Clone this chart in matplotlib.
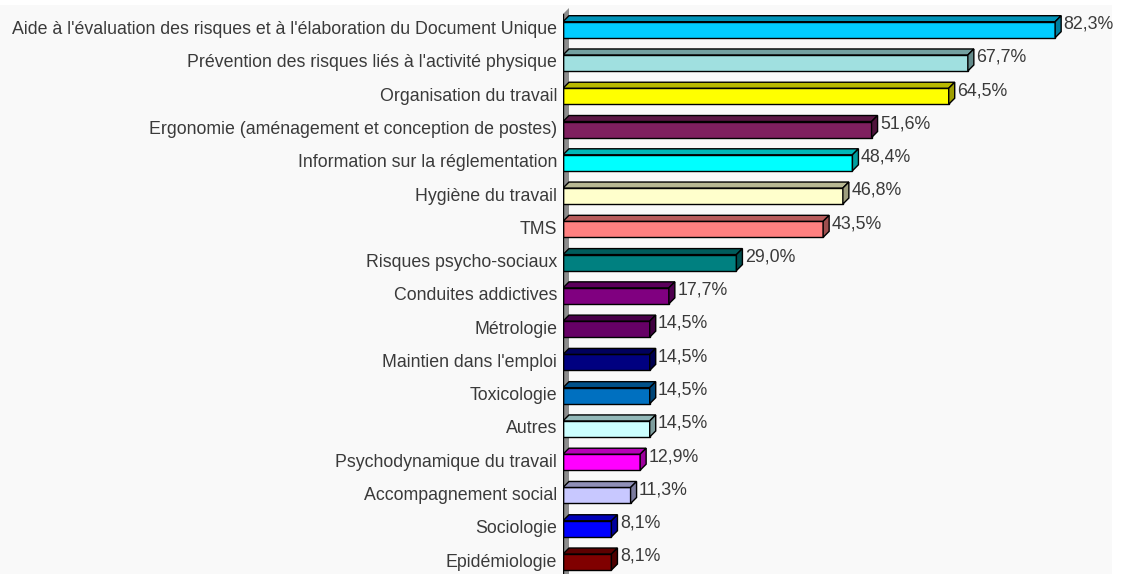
import matplotlib.pyplot as plt
from matplotlib.patches import Polygon, Rectangle
from matplotlib.colors import to_rgb

categories = [
    "Aide à l'évaluation des risques et à l'élaboration du Document Unique",
    "Prévention des risques liés à l'activité physique",
    "Organisation du travail",
    "Ergonomie (aménagement et conception de postes)",
    "Information sur la réglementation",
    "Hygiène du travail",
    "TMS",
    "Risques psycho-sociaux",
    "Conduites addictives",
    "Métrologie",
    "Maintien dans l'emploi",
    "Toxicologie",
    "Autres",
    "Psychodynamique du travail",
    "Accompagnement social",
    "Sociologie",
    "Epidémiologie",
]
values = [82.3, 67.7, 64.5, 51.6, 48.4, 46.8, 43.5, 29.0, 17.7, 14.5, 14.5,
          14.5, 14.5, 12.9, 11.3, 8.1, 8.1]
colors = ["#00CCFF", "#A0E0E0", "#FFFF00", "#7F1F5F", "#00FFFF", "#FFFFCC",
          "#FF8080", "#008080", "#800080", "#660066", "#000080", "#0070C0",
          "#CCFFFF", "#FF00FF", "#C8C8FF", "#0000FF", "#800000"]

plt.rcParams['font.family'] = ['Liberation Sans', 'DejaVu Sans']

W, H = 1121, 574
fig = plt.figure(figsize=(W / 100, H / 100), dpi=100)
fig.patch.set_facecolor("white")
# light grey chart area
bg = Rectangle((0, 0), 1112 / W, (H - 5) / H, transform=fig.transFigure,
               facecolor="#F9F9F9", edgecolor="none", zorder=-10)
fig.add_artist(bg)

x0, x1 = 563, 1113
ax = fig.add_axes([x0 / W, 0, (x1 - x0) / W, (H - 5) / H])
ax.set_facecolor("none")
ax.set_zorder(1)
px_per_unit = 5.98
row = 33.27
ax.set_xlim(0, (x1 - x0) / px_per_unit)
ax.set_ylim((H - 29.7) / row, (5 - 29.7) / row)

dx = 6 / px_per_unit
dy = 6 / row
h = 16 / row


def darker(c, f=0.72):
    r, g, b = to_rgb(c)
    return (r * f, g * f, b * f)


# grey wall
ybot = (H - 29.7) / row
wall_top = (14 - 29.7) / row
ax.add_patch(Polygon([(0, ybot), (0, wall_top), (dx, wall_top - dy), (dx, ybot)],
                     closed=True, facecolor="#8C8C8C", edgecolor="none", zorder=1))
ax.plot([0, 0], [ybot, wall_top], color="black", lw=1, zorder=5)

for i, (v, c) in enumerate(zip(values, colors)):
    top = i - h / 2
    bot = i + h / 2
    ax.barh(i, v, height=h, color=c, edgecolor="black", linewidth=1, zorder=3)
    ax.add_patch(Polygon([(0, top), (dx, top - dy), (v + dx, top - dy), (v, top)],
                         closed=True, facecolor=darker(c), edgecolor="black", lw=1, zorder=3))
    ax.add_patch(Polygon([(v, top), (v + dx, top - dy), (v + dx, bot - dy), (v, bot)],
                         closed=True, facecolor=darker(c, 0.62), edgecolor="black", lw=1, zorder=3))
    ax.text(v + dx + 0.4, i - 0.17, f"{v:.1f}%".replace(".", ","), va="center", ha="left",
            fontsize=12.8, color="#3a3a3a")
    ax.text(-6 / px_per_unit, i, categories[i], va="center", ha="right",
            fontsize=12.8, color="#3a3a3a")

ax.axis("off")
fig.savefig("out.png", dpi=100)
